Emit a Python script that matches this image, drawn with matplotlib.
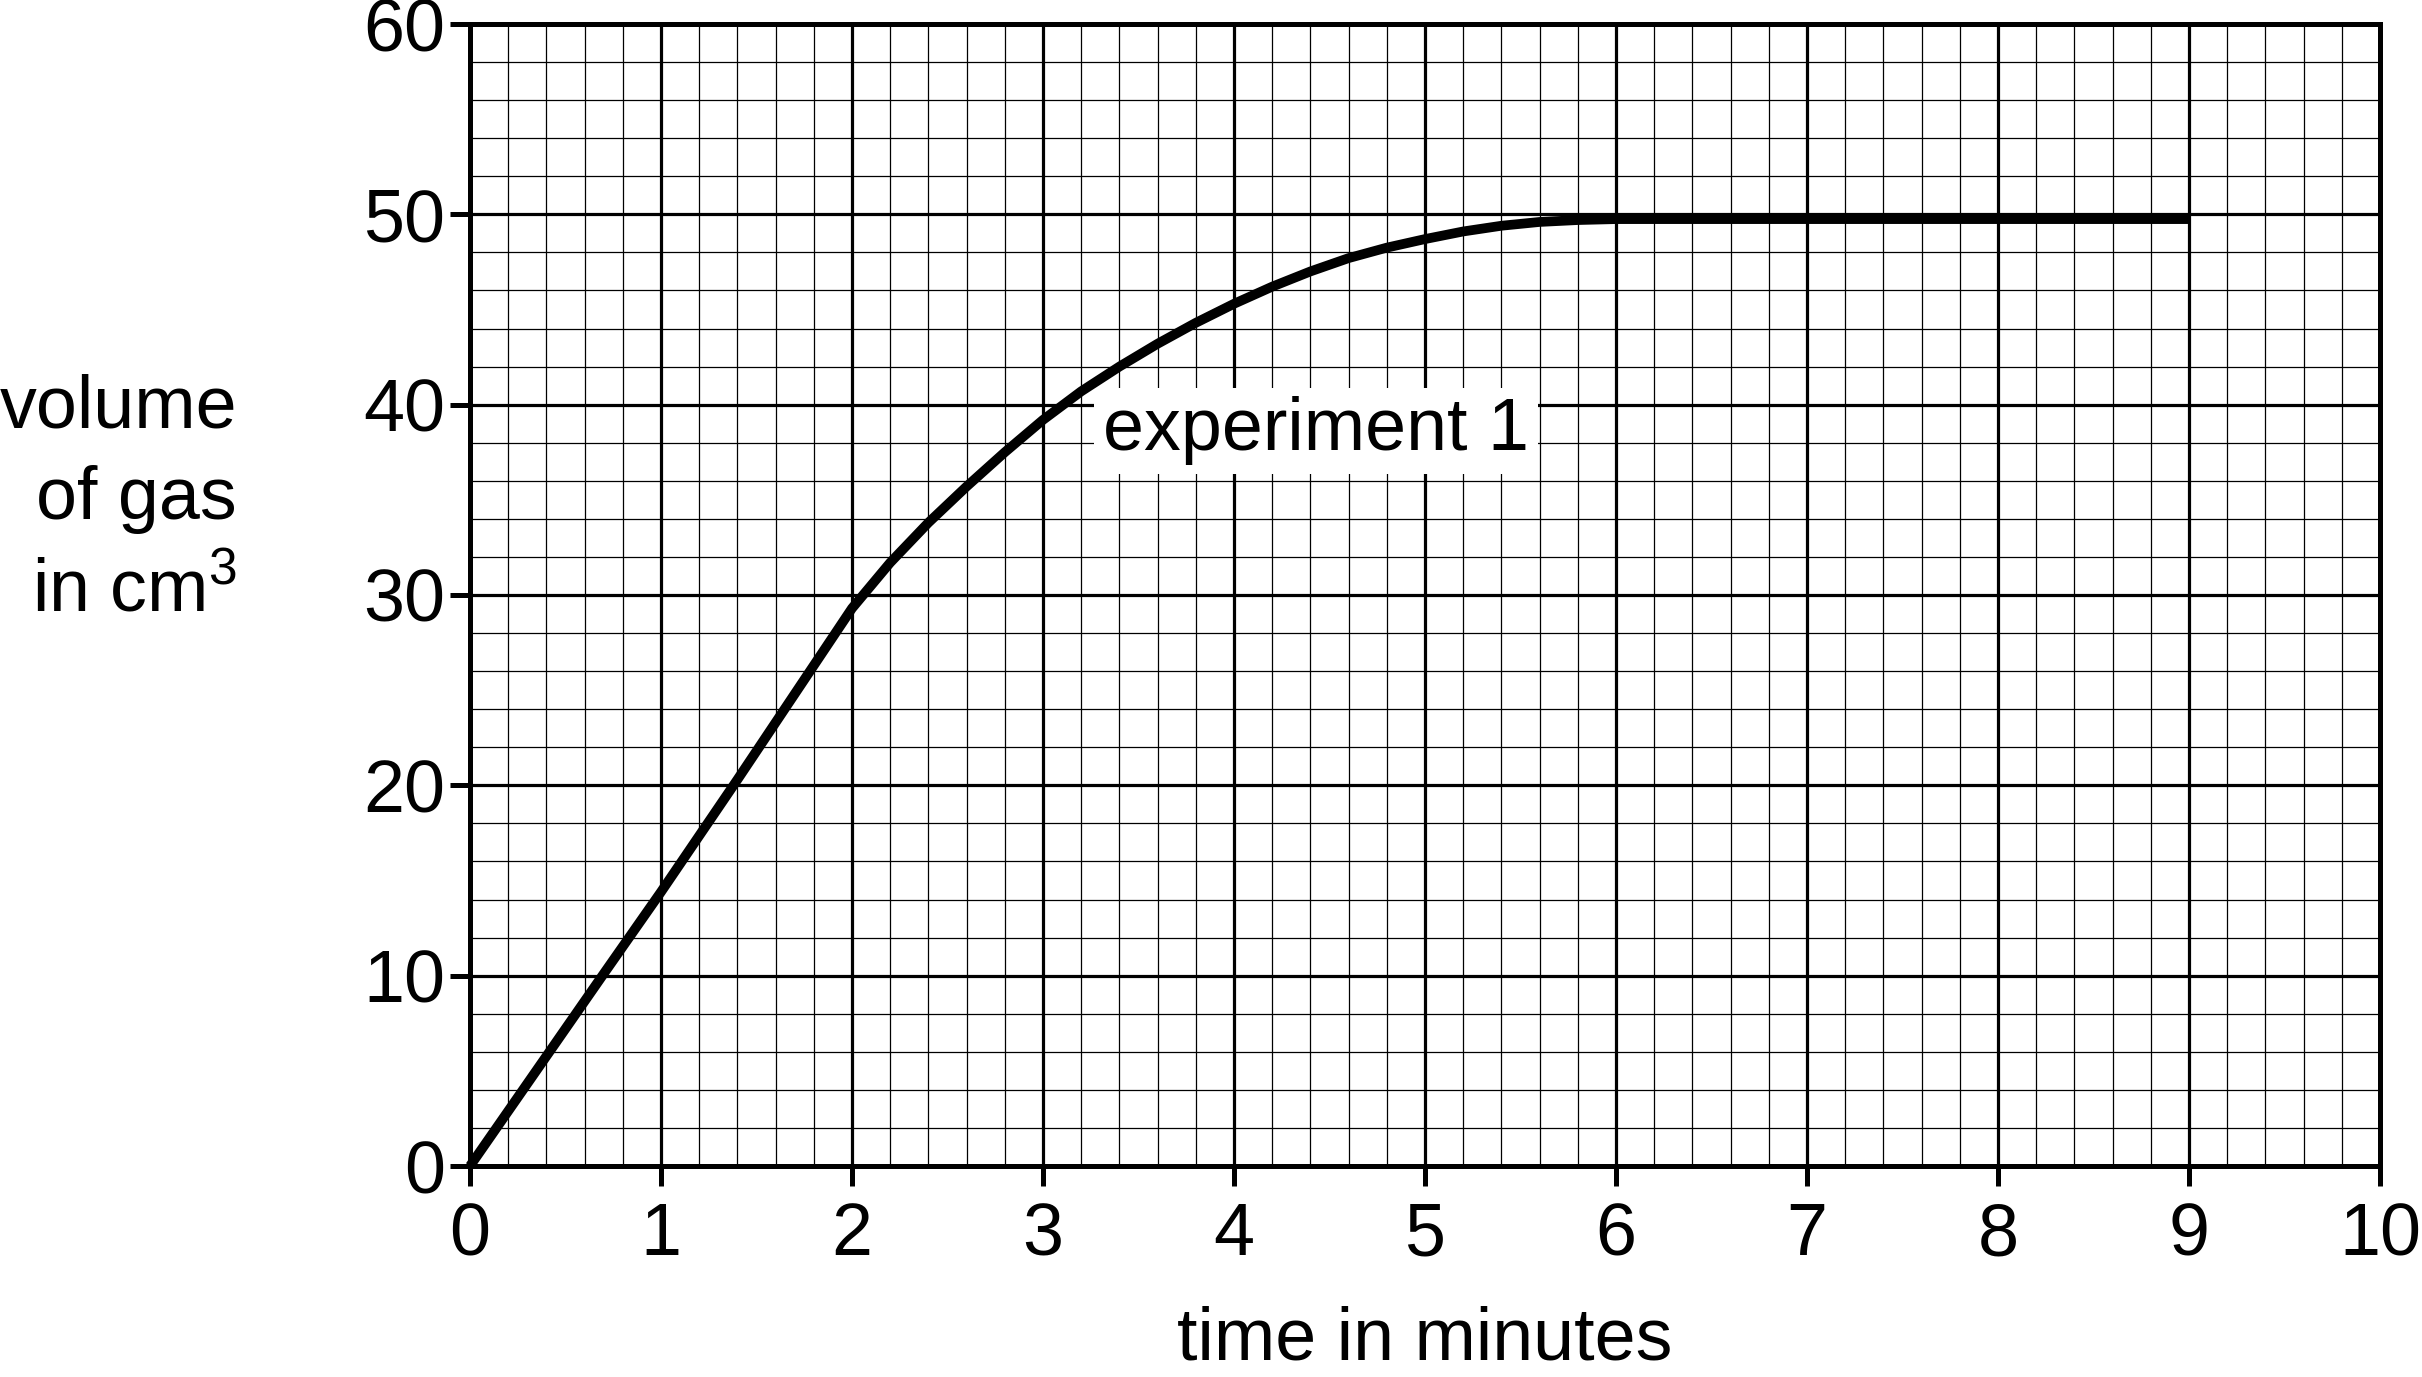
import matplotlib
matplotlib.use("Agg")
import matplotlib.pyplot as plt
from matplotlib.ticker import MultipleLocator

# ---- data ----
time_min = [0.0, 0.7, 1.0, 1.4, 2.0, 2.2, 2.4, 2.6, 2.8, 3.0, 3.2, 3.4, 3.6, 3.8,
            4.0, 4.2, 4.4, 4.6, 4.8, 5.0, 5.2, 5.4, 5.6, 5.8, 6.0, 9.0]
volume_cm3 = [0.0, 10.1, 14.4, 20.3, 29.3, 31.7, 33.8, 35.7, 37.5, 39.2, 40.7, 42.0,
              43.2, 44.3, 45.3, 46.2, 47.0, 47.7, 48.25, 48.7, 49.1, 49.4, 49.6,
              49.7, 49.75, 49.75]
x_ticks = list(range(0, 11))
y_ticks = list(range(0, 61, 10))
series_label = "experiment 1"
x_label = "time in minutes"
y_label_lines = "volume\nof gas\nin cm$^{3}$"

plt.rcParams['font.family'] = ['Liberation Sans', 'DejaVu Sans']
plt.rcParams['mathtext.fontset'] = 'custom'
plt.rcParams['mathtext.rm'] = 'Liberation Sans'
plt.rcParams['mathtext.it'] = 'Liberation Sans'
plt.rcParams['mathtext.bf'] = 'Liberation Sans:bold'
plt.rcParams['mathtext.default'] = 'regular'

W, H = 2422, 1377
fig = plt.figure(figsize=(W / 100, H / 100), dpi=100)
x0, x1 = 470, 2380
y_top, y_bot = 24, 1166
ax = fig.add_axes([x0 / W, 1 - y_bot / H, (x1 - x0) / W, (y_bot - y_top) / H])

ax.plot(time_min, volume_cm3, color='black', lw=7, solid_capstyle='butt',
        solid_joinstyle='round', zorder=4, clip_on=False)

ax.set_xlim(0, 10)
ax.set_ylim(0, 60)
ax.set_xticks(x_ticks)
ax.set_yticks(y_ticks)
ax.xaxis.set_minor_locator(MultipleLocator(0.2))
ax.yaxis.set_minor_locator(MultipleLocator(2))
ax.set_axisbelow(True)
ax.grid(which='major', color='black', lw=2.3)
ax.grid(which='minor', color='black', lw=0.9)

for sp in ax.spines.values():
    sp.set_linewidth(3.6)
    sp.set_color('black')
    sp.set_zorder(5)

ax.tick_params(which='major', direction='out', length=14.4, width=3.6,
               labelsize=53, color='black')
ax.tick_params(axis='x', which='major', pad=11)
ax.tick_params(axis='y', which='major', pad=3.6)
ax.tick_params(which='minor', length=0)

ax.text(4.43, 37.6, series_label, fontsize=53, ha='center', va='baseline',
        zorder=3, bbox=dict(boxstyle='square,pad=0.12', facecolor='white',
                            edgecolor='none'))

ax.set_xlabel(x_label, fontsize=53)
ax.xaxis.label.set_verticalalignment('baseline')
ax.xaxis.set_label_coords(0.5, (y_bot - 1360) / (y_bot - y_top))

ax.set_ylabel(y_label_lines, fontsize=53, rotation=0, ha='right', va='center',
              multialignment='right', linespacing=1.42)
ax.yaxis.set_label_coords((237 - x0) / (x1 - x0), (y_bot - 500) / (y_bot - y_top))

fig.savefig("out.png", dpi=100, facecolor='white')
